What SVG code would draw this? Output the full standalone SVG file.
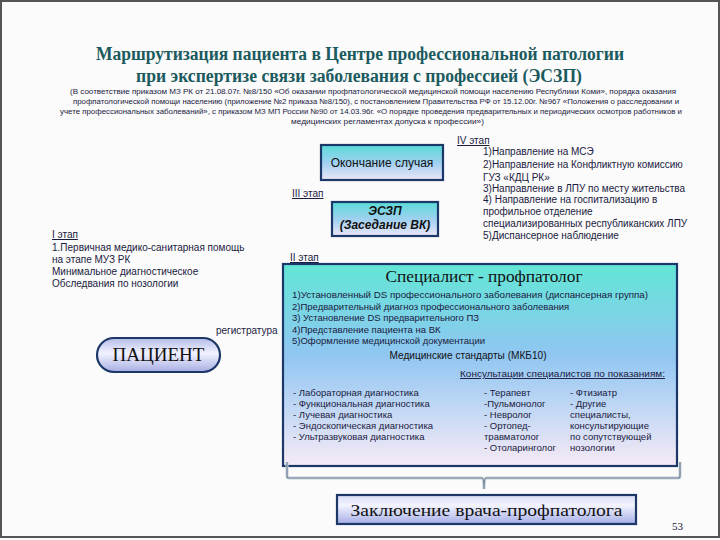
<svg xmlns="http://www.w3.org/2000/svg" width="720" height="540" viewBox="0 0 720 540">
<defs>
<linearGradient id="gTeal" x1="0" y1="0" x2="0" y2="1">
<stop offset="0" stop-color="#58dcd6"/>
<stop offset="0.5" stop-color="#9fd0f0"/>
<stop offset="1" stop-color="#ece6f8"/>
</linearGradient>
<linearGradient id="gBig" x1="0" y1="0" x2="0" y2="1">
<stop offset="0" stop-color="#62e6d6"/>
<stop offset="0.45" stop-color="#90c6f2"/>
<stop offset="1" stop-color="#f6eaf6"/>
</linearGradient>
<linearGradient id="gLav" x1="0" y1="0" x2="0" y2="1">
<stop offset="0" stop-color="#b4bbe8"/>
<stop offset="0.45" stop-color="#f2f2ff"/>
<stop offset="1" stop-color="#a6aee2"/>
</linearGradient>
<linearGradient id="gFin" x1="0" y1="0" x2="0" y2="1">
<stop offset="0" stop-color="#d8dbf6"/>
<stop offset="0.35" stop-color="#f4f4ff"/>
<stop offset="1" stop-color="#a4ade6"/>
</linearGradient>
<style>
.t{font-family:"Liberation Sans",Arial,sans-serif;fill:#1a1a40}
.s{font-size:10px}
.p{font-size:7.5px}
.u{text-decoration:underline}
.ser{font-family:"Liberation Serif","Times New Roman",serif;fill:#111}
.box{stroke:#1c3868;stroke-width:2.2}
</style>
</defs>
<rect x="0" y="0" width="720" height="540" fill="#fbfbfb"/>
<rect x="1" y="1" width="718" height="536" fill="none" stroke="#555" stroke-width="2"/>

<g id="title">
<text x="360" y="60" text-anchor="middle" font-family="Liberation Serif,serif" font-size="18" font-weight="bold" fill="#1b5a5e" textLength="528" lengthAdjust="spacingAndGlyphs">Маршрутизация пациента в Центре профессиональной патологии</text>
<text x="359" y="82" text-anchor="middle" font-family="Liberation Serif,serif" font-size="18" font-weight="bold" fill="#1b5a5e" textLength="446" lengthAdjust="spacingAndGlyphs">при экспертизе связи заболевания с профессией (ЭСЗП)</text>
</g>

<g id="basis" class="t p">
<text x="70" y="94" textLength="606" lengthAdjust="spacingAndGlyphs">(В соответствие приказом МЗ РК  от 21.08.07г. №8/150 «Об оказании профпатологической медицинской помощи населению Республики Коми», порядка оказания</text>
<text x="73" y="104" textLength="606" lengthAdjust="spacingAndGlyphs">профпатологической помощи населению (приложение №2 приказа №8/150), с постановлением Правительства РФ от 15.12.00г. №967 «Положения о расследовании и</text>
<text x="60" y="114" textLength="622" lengthAdjust="spacingAndGlyphs">учете профессиональных заболеваний», с приказом МЗ МП России №90 от 14.03.96г. «О порядке проведения предварительных и периодических осмотров работников и</text>
<text x="291" y="124" textLength="193" lengthAdjust="spacingAndGlyphs">медицинских регламентах допуска к профессии»)</text>
</g>

<g id="stage4" class="t s">
<text x="457" y="144" class="u">IV этап</text>
<text x="483" y="155">1)Направление на МСЭ</text>
<text x="483" y="167.5">2)Направление на Конфликтную комиссию</text>
<text x="483" y="180.5">ГУЗ «КДЦ РК»</text>
<text x="483" y="192">3)Направление в ЛПУ по месту жительства</text>
<text x="483" y="203">4) Направление на госпитализацию в</text>
<text x="483" y="214.5">профильное отделение</text>
<text x="483" y="226.5">специализированных республиканских ЛПУ</text>
<text x="483" y="238.5">5)Диспансерное наблюдение</text>
</g>

<g id="end-case">
<rect class="box" x="321" y="145" width="122" height="35" fill="url(#gTeal)"/>
<text x="382" y="167" text-anchor="middle" font-family="Liberation Sans,sans-serif" font-size="12" fill="#111">Окончание случая</text>
</g>

<g id="stage3" class="t s">
<text x="292" y="197" class="u">III этап</text>
</g>

<g id="eszp">
<rect class="box" x="332" y="202" width="106" height="34" fill="url(#gTeal)"/>
<text x="385" y="215" text-anchor="middle" font-family="Liberation Sans,sans-serif" font-size="12" font-weight="bold" font-style="italic" fill="#111">ЭСЗП</text>
<text x="385" y="229" text-anchor="middle" font-family="Liberation Sans,sans-serif" font-size="12" font-weight="bold" font-style="italic" fill="#111">(Заседание ВК)</text>
</g>

<g id="stage1" class="t s">
<text x="52" y="238" class="u">I этап</text>
<text x="52" y="250.5">1.Первичная медико-санитарная помощь</text>
<text x="52" y="262.5">на этапе МУЗ РК</text>
<text x="52" y="275">Минимальное диагностическое</text>
<text x="52" y="287">Обследвания  по нозологии</text>
</g>

<g id="stage2" class="t s">
<text x="290" y="261" class="u">II этап</text>
</g>

<g id="registry" class="t s">
<text x="216" y="334">регистратура</text>
</g>

<g id="patient">
<rect class="box" x="97" y="338" width="123" height="34" rx="17" fill="url(#gLav)"/>
<text x="158.5" y="361" text-anchor="middle" class="ser" font-size="19">ПАЦИЕНТ</text>
</g>

<g id="specialist">
<rect class="box" x="283" y="264" width="394" height="202" fill="url(#gBig)"/>
<text x="484" y="282" text-anchor="middle" class="ser" font-size="17.5" textLength="197" lengthAdjust="spacingAndGlyphs">Специалист - профпатолог</text>
<g class="t" font-size="9.5">
<text x="292" y="298" textLength="356" lengthAdjust="spacingAndGlyphs">1)Установленный DS профессионального заболевания (диспансерная группа)</text>
<text x="292" y="309.5">2)Предварительный диагноз профессионального заболевания</text>
<text x="292" y="320.5">3) Установление  DS предварительного ПЗ</text>
<text x="292" y="332.5">4)Представление пациента на ВК</text>
<text x="292" y="344">5)Оформление медицинской документации</text>
</g>
<text x="468" y="359" text-anchor="middle" font-family="Liberation Sans,sans-serif" font-size="11" fill="#111" textLength="157" lengthAdjust="spacingAndGlyphs">Медицинские стандарты (МКБ10)</text>
<g class="t" font-size="9.5">
<text x="460" y="377" class="u" textLength="205" lengthAdjust="spacingAndGlyphs">Консультации специалистов по показаниям:</text>
<text x="293" y="396">- Лабораторная диагностика</text>
<text x="293" y="407">- Функциональная диагностика</text>
<text x="293" y="417.5">- Лучевая диагностика</text>
<text x="293" y="428.5">- Эндоскопическая диагностика</text>
<text x="293" y="439.5">- Ультразвуковая диагностика</text>
<text x="484" y="396">- Терапевт</text>
<text x="484" y="407">-Пульмонолог</text>
<text x="484" y="417.5">- Невролог</text>
<text x="484" y="428.5">- Ортопед-</text>
<text x="484" y="439.5">травматолог</text>
<text x="484" y="451">- Отоларинголог</text>
<text x="570" y="396">- Фтизиатр</text>
<text x="570" y="407">- Другие</text>
<text x="570" y="417.5">специалисты,</text>
<text x="570" y="428.5">консультирующие</text>
<text x="570" y="439.5">по сопутствующей</text>
<text x="570" y="451">нозологии</text>
</g>
</g>

<g id="connectors" fill="none">
<path d="M287,462 V476 Q287,478 289,478 H482 Q484,478 484,489 Q484,478 486,478 H678 Q680,478 680,476 V462" stroke="#c8d0d8" stroke-width="3"/>
<path d="M287,462 V476 Q287,478 289,478 H482 Q484,478 484,489 Q484,478 486,478 H678 Q680,478 680,476 V462" stroke="#6f8499" stroke-width="1.2"/>
</g>

<g id="conclusion">
<rect class="box" x="337" y="495" width="299" height="29" fill="url(#gFin)"/>
<text x="486.5" y="516" text-anchor="middle" class="ser" font-size="17" textLength="272" lengthAdjust="spacingAndGlyphs">Заключение врача-профпатолога</text>
</g>

<text x="672" y="530" font-family="Liberation Serif,serif" font-size="11" fill="#1a1a40">53</text>
</svg>
